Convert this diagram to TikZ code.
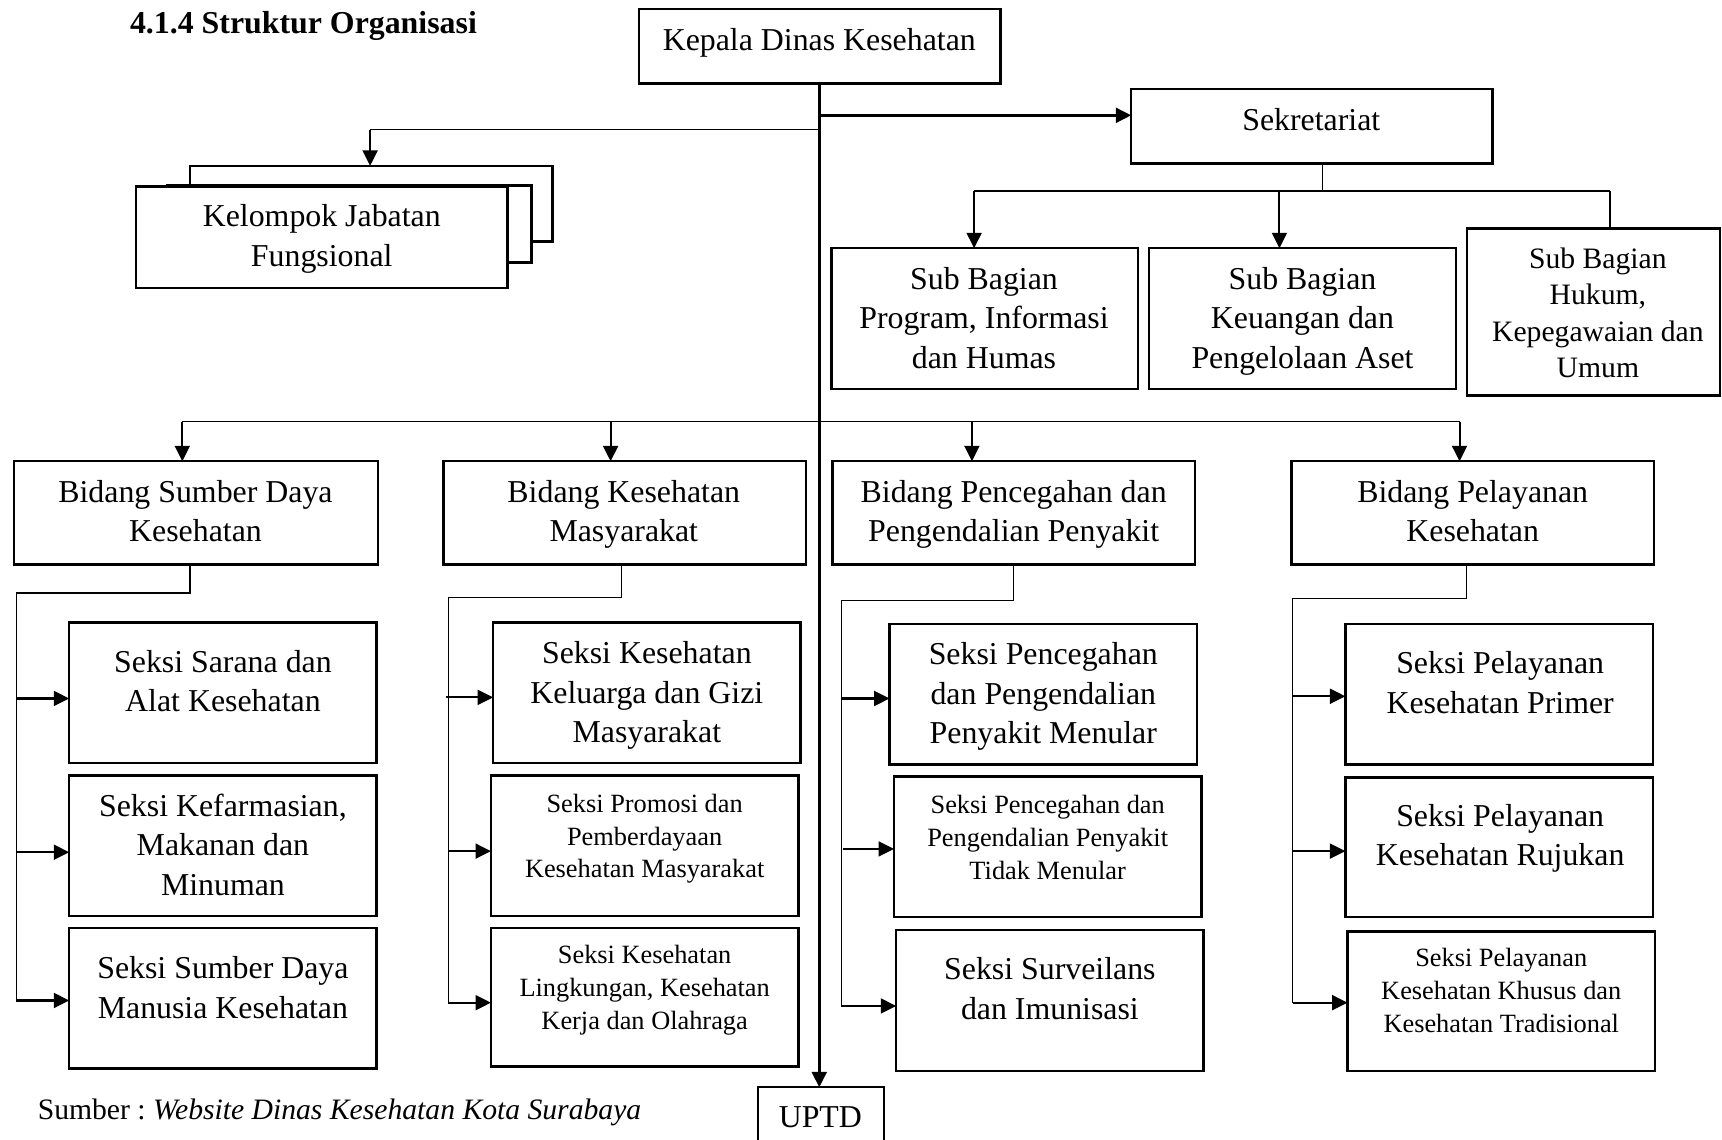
\documentclass[tikz,border=0pt]{standalone}
\usepackage{fontspec}
\setmainfont{Liberation Serif}
\usetikzlibrary{arrows.meta}
\frenchspacing

\tikzset{
  bx/.style={draw, line width=1.1pt, fill=white, inner sep=0pt, outer sep=0pt},
  txt/.style={align=center, inner sep=0pt, yshift=-2.3pt, execute at begin node=\strut, execute at end node=\strut},
  big/.style={txt, font=\fontsize{14.5}{18}\selectfont},
  med/.style={txt, font=\fontsize{13.5}{16.5}\selectfont},
  small/.style={txt, font=\fontsize{12}{15}\selectfont},
  thinln/.style={line width=0.5pt},
  medln/.style={line width=0.8pt},
  arr/.style={line width=0.95pt, -{Triangle[length=7pt,width=6.8pt]}},
}
\newcommand\mkbox[5]{\node[bx, minimum width={(#4-#2)*0.5pt}, minimum height={(#5-#3)*0.5pt}] (#1) at ({(#2+#4)/2},{(#3+#5)/2}) {};}

\begin{document}
\begin{tikzpicture}[x=0.5pt,y=-0.5pt]
\useasboundingbox (0,0) rectangle (1568,1038);
\clip (0,0) rectangle (1568,1038);

% title
\node[anchor=west, inner sep=0pt, font=\bfseries\fontsize{14.5}{18}\selectfont] (title) at (118,24) {4.1.4 Struktur Organisasi};

% Kepala
\mkbox{kep}{582}{8}{911}{76}
\node[big] (tkep) at (746,34) {Kepala Dinas Kesehatan};

% UPTD
\mkbox{uptd}{690}{990}{805}{1070}
\node[big] (tuptd) at (747,1015) {UPTD};
\draw[arr, line width=1.15pt] (kep.south -| 746,0) -- (uptd.north -| 746,0);

% Sekretariat
\mkbox{sek}{1030}{81}{1359}{149}
\node[big] (tsek) at (1194,107) {Sekretariat};
\coordinate (sa) at (1030,105);
\draw[arr, line width=1.15pt] (746,105) -- (sa);

% Kelompok Jabatan Fungsional
\mkbox{kjb}{173}{151}{503}{220}
\mkbox{kjm}{152}{169}{484}{239}
\mkbox{kjf}{124}{170}{462}{262}
\node[big] (tkj) at (293,215) {Kelompok Jabatan\\Fungsional};
\coordinate (kj) at (337,118);
\draw[thinln] (746,118) -- (kj);
\draw[arr] (kj) -- (kjb.north -| kj);

% Sub Bagian
\mkbox{sb1}{757}{226}{1036}{354}
\node[big] (tsb1) at (896,290) {Sub Bagian\\Program, Informasi\\dan Humas};
\mkbox{sb2}{1046}{226}{1326}{354}
\node[big] (tsb2) at (1186,290) {Sub Bagian\\Keuangan dan\\Pengelolaan Aset};
\mkbox{sb3}{1336}{208}{1566}{360}
\node[med] (tsb3) at (1455,285) {Sub Bagian\\Hukum,\\Kepegawaian dan\\Umum};
\coordinate (sj) at (1204,174);
\draw[thinln] (sek.south -| sj) -- (sj);
\draw[medln] (887,174) -- (1466,174);
\draw[arr] (887,174) -- (sb1.north -| 887,0);
\draw[arr] (1165,174) -- (sb2.north -| 1165,0);
\draw[medln] (1466,174) -- (sb3.north -| 1466,0);

% Bidang
\draw[thinln] (166,384) -- (1329,384);
\mkbox{b1}{13}{420}{344}{514}
\node[big] (tb1) at (178,466) {Bidang Sumber Daya\\Kesehatan};
\mkbox{b2}{404}{420}{734}{514}
\node[big] (tb2) at (568,466) {Bidang Kesehatan\\Masyarakat};
\mkbox{b3}{758}{420}{1088}{514}
\node[big] (tb3) at (923,466) {Bidang Pencegahan dan\\Pengendalian Penyakit};
\mkbox{b4}{1176}{420}{1506}{514}
\node[big] (tb4) at (1341,466) {Bidang Pelayanan\\Kesehatan};
\draw[arr] (166,384) -- (b1.north -| 166,0);
\draw[arr] (556,384) -- (b2.north -| 556,0);
\draw[arr] (885,384) -- (b3.north -| 885,0);
\draw[arr] (1329,384) -- (b4.north -| 1329,0);

% Column 1
\mkbox{s1a}{63}{567}{343}{695}
\node[big] (ts1a) at (203,621) {Seksi Sarana dan\\Alat Kesehatan};
\mkbox{s1b}{63}{706}{343}{834}
\node[big] (ts1b) at (203,770) {Seksi Kefarmasian,\\Makanan dan\\Minuman};
\mkbox{s1c}{63}{845}{343}{973}
\node[big] (ts1c) at (203,900) {Seksi Sumber Daya\\Manusia Kesehatan};
\draw[thinln] (b1.south -| 173,0) -- (173,540) -- (15,540) -- (15,911);
\draw[arr] (15,636) -- (s1a.west |- 0,636);
\draw[arr] (15,776) -- (s1b.west |- 0,776);
\draw[arr] (15,911) -- (s1c.west |- 0,911);

% Column 2
\mkbox{s2a}{449}{567}{729}{695}
\node[big] (ts2a) at (589,631) {Seksi Kesehatan\\Keluarga dan Gizi\\Masyarakat};
\mkbox{s2b}{447}{706}{727}{834}
\node[small] (ts2b) at (587,761) {Seksi Promosi dan\\Pemberdayaan\\Kesehatan Masyarakat};
\mkbox{s2c}{447}{845}{727}{971}
\node[small] (ts2c) at (587,899) {Seksi Kesehatan\\Lingkungan, Kesehatan\\Kerja dan Olahraga};
\draw[thinln] (b2.south -| 566,0) -- (566,544) -- (408,544) -- (408,913);
\draw[arr] (406,635) -- (s2a.west |- 0,635);
\draw[arr] (408,775) -- (s2b.west |- 0,775);
\draw[arr] (408,913) -- (s2c.west |- 0,913);

% Column 3
\mkbox{s3a}{810}{568}{1090}{696}
\node[big] (ts3a) at (950,632) {Seksi Pencegahan\\dan Pengendalian\\Penyakit Menular};
\mkbox{s3b}{814}{707}{1094}{835}
\node[small] (ts3b) at (954,762) {Seksi Pencegahan dan\\Pengendalian Penyakit\\Tidak Menular};
\mkbox{s3c}{816}{847}{1096}{975}
\node[big] (ts3c) at (956,901) {Seksi Surveilans\\dan Imunisasi};
\draw[thinln] (b3.south -| 923,0) -- (923,547) -- (766,547) -- (766,916);
\draw[arr] (766,636) -- (s3a.west |- 0,636);
\draw[arr] (768,773) -- (s3b.west |- 0,773);
\draw[arr] (766,916) -- (s3c.west |- 0,916);

% Column 4
\mkbox{s4a}{1225}{568}{1505}{696}
\node[big] (ts4a) at (1366,622) {Seksi Pelayanan\\Kesehatan Primer};
\mkbox{s4b}{1225}{708}{1505}{835}
\node[big] (ts4b) at (1366,761) {Seksi Pelayanan\\Kesehatan Rujukan};
\mkbox{s4c}{1227}{848}{1507}{975}
\node[small] (ts4c) at (1367,902) {Seksi Pelayanan\\Kesehatan Khusus dan\\Kesehatan Tradisional};
\draw[thinln] (b4.south -| 1335,0) -- (1335,545) -- (1177,545) -- (1177,913);
\draw[arr] (1177,634) -- (s4a.west |- 0,634);
\draw[arr] (1177,775) -- (s4b.west |- 0,775);
\draw[arr] (1177,913) -- (s4c.west |- 0,913);

% source
\node[anchor=west, inner sep=0pt, font=\fontsize{13.5}{16}\selectfont] (src) at (34,1013) {Sumber : \textit{Website Dinas Kesehatan Kota Surabaya}};
\end{tikzpicture}
\end{document}
